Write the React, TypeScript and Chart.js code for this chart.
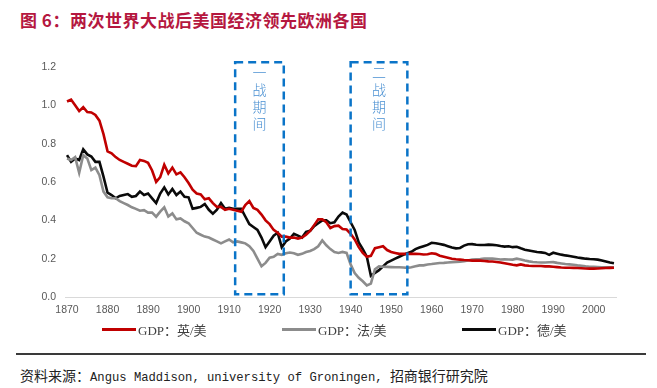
import React, { useEffect, useRef } from 'react';
import { Chart, registerables } from 'chart.js';

Chart.register(...registerables);

const firstYear = 1870;
const lastYear = 2005;
const years: string[] = [];
for (let yr = firstYear; yr <= lastYear; yr++) years.push(String(yr));

const ukUs: number[] = [
  1.02, 1.03, 1.0, 0.97, 0.99, 0.965, 0.963, 0.95, 0.92, 0.85,
  0.76, 0.75, 0.73, 0.715, 0.705, 0.695, 0.685, 0.683, 0.715, 0.71,
  0.7, 0.66, 0.6, 0.625, 0.69, 0.645, 0.675, 0.64, 0.65, 0.625,
  0.595, 0.56, 0.54, 0.535, 0.51, 0.515, 0.49, 0.47, 0.47, 0.455,
  0.46, 0.455, 0.45, 0.445, 0.48, 0.5, 0.465, 0.455, 0.43, 0.4,
  0.38, 0.35, 0.335, 0.315, 0.315, 0.31, 0.31, 0.305, 0.31, 0.325,
  0.345, 0.375, 0.405, 0.405, 0.39, 0.36, 0.37, 0.372, 0.355, 0.352,
  0.33, 0.3, 0.26, 0.23, 0.21, 0.215, 0.255, 0.26, 0.265, 0.245,
  0.235, 0.23, 0.225, 0.225, 0.225, 0.225, 0.225, 0.224, 0.222, 0.223,
  0.228, 0.225, 0.215, 0.21, 0.205, 0.2, 0.197, 0.195, 0.193, 0.192,
  0.19, 0.19, 0.19, 0.188, 0.186, 0.185, 0.183, 0.18, 0.176, 0.172,
  0.168, 0.165, 0.17, 0.165, 0.163, 0.162, 0.162, 0.162, 0.16, 0.16,
  0.158, 0.156, 0.154, 0.153, 0.153, 0.152, 0.151, 0.15, 0.149, 0.148,
  0.148, 0.149, 0.15, 0.151, 0.152, 0.153,
];

const frUs: number[] = [
  0.723, 0.715, 0.73, 0.648, 0.74, 0.723, 0.662, 0.675, 0.636, 0.55,
  0.52, 0.515, 0.515, 0.5, 0.49, 0.48, 0.468, 0.46, 0.45, 0.453,
  0.44, 0.44, 0.419, 0.445, 0.468, 0.42, 0.436, 0.405, 0.41, 0.395,
  0.385, 0.36, 0.335, 0.325, 0.315, 0.31, 0.3, 0.29, 0.28, 0.29,
  0.3, 0.285, 0.29, 0.285, 0.28, 0.265, 0.24, 0.2, 0.16, 0.178,
  0.205, 0.21, 0.225, 0.22, 0.228, 0.232, 0.228, 0.22, 0.225, 0.235,
  0.24, 0.25, 0.265, 0.295, 0.27, 0.25, 0.235, 0.23, 0.235, 0.23,
  0.17, 0.125, 0.1, 0.082, 0.06, 0.07, 0.145, 0.16, 0.158, 0.157,
  0.156, 0.155, 0.155, 0.154, 0.152, 0.155, 0.16, 0.165, 0.165, 0.17,
  0.172, 0.175, 0.177, 0.178, 0.18, 0.182, 0.183, 0.184, 0.187, 0.19,
  0.195, 0.197, 0.198, 0.2, 0.2, 0.2, 0.198, 0.196, 0.197, 0.196,
  0.195, 0.2, 0.196, 0.19, 0.186, 0.183, 0.181, 0.18, 0.18, 0.181,
  0.182, 0.178, 0.175, 0.172, 0.17, 0.168, 0.165, 0.163, 0.16, 0.158,
  0.157, 0.156, 0.155, 0.155, 0.155, 0.155,
];

const deUs: number[] = [
  0.74, 0.705, 0.723, 0.715, 0.77, 0.744, 0.733, 0.705, 0.705, 0.628,
  0.544, 0.532, 0.515, 0.527, 0.532, 0.537, 0.523, 0.527, 0.55, 0.532,
  0.54, 0.515, 0.49, 0.54, 0.572, 0.535, 0.563, 0.532, 0.55, 0.523,
  0.52, 0.46, 0.465, 0.47, 0.485, 0.455, 0.435, 0.455, 0.49, 0.46,
  0.465, 0.46, 0.46, 0.46, 0.42, 0.38, 0.365, 0.35, 0.31, 0.26,
  0.29, 0.32, 0.335, 0.26, 0.29, 0.305, 0.33, 0.32, 0.31, 0.34,
  0.345, 0.37, 0.385, 0.4, 0.4, 0.385, 0.39, 0.42, 0.44, 0.43,
  0.39, 0.35, 0.285, 0.25, 0.21, 0.11, 0.125, 0.14, 0.16, 0.18,
  0.19, 0.2, 0.21, 0.22, 0.228, 0.236, 0.25, 0.258, 0.265, 0.272,
  0.283, 0.28, 0.277, 0.272, 0.265, 0.258, 0.254, 0.256, 0.268, 0.275,
  0.276, 0.273, 0.271, 0.271, 0.273, 0.272, 0.27, 0.266, 0.263, 0.265,
  0.26, 0.262, 0.254, 0.247, 0.243, 0.239, 0.235, 0.233, 0.23, 0.22,
  0.231, 0.226, 0.221, 0.217, 0.214, 0.21, 0.206, 0.203, 0.2, 0.198,
  0.197, 0.195, 0.19, 0.185, 0.18, 0.176,
];

const seriesNames = ['GDP：英/美', 'GDP：法/美', 'GDP：德/美'];
const seriesColors = ['#C00000', '#8C8C8C', '#0A0A0A'];

const yTicks: number[] = [0, 0.2, 0.4, 0.6, 0.8, 1.0, 1.2];

const warLabels = ['一战期间', '二战期间'];
const warStarts = [1911.5, 1940];
const warEnds = [1923.5, 1954];
const boxTop = 1.225;
const boxBottom = 0.015;

const warBoxPlugin = {
  id: 'warBoxes',
  afterDatasetsDraw(chart: any) {
    const { ctx, scales } = chart;
    const x = scales.x;
    const y = scales.y;
    ctx.save();
    warLabels.forEach((label, i) => {
      const x0 = x.getPixelForValue(warStarts[i] - firstYear);
      const x1 = x.getPixelForValue(warEnds[i] - firstYear);
      const y0 = y.getPixelForValue(boxTop);
      const y1 = y.getPixelForValue(boxBottom);
      ctx.setLineDash([8, 5]);
      ctx.lineWidth = 2.5;
      ctx.strokeStyle = '#0A74C8';
      ctx.strokeRect(x0, y0, x1 - x0, y1 - y0);
      ctx.setLineDash([]);
      ctx.fillStyle = '#4A90D2';
      ctx.font = '300 14px "Noto Sans CJK SC"';
      ctx.textAlign = 'center';
      ctx.textBaseline = 'middle';
      const cx = (x0 + x1) / 2;
      Array.from(label).forEach((ch, k) => {
        ctx.fillText(ch, cx, y0 + 10 + k * 17);
      });
    });
    ctx.restore();
  },
};

export default function App() {
  const canvasRef = useRef<HTMLCanvasElement | null>(null);

  useEffect(() => {
    if (!canvasRef.current) return;
    const chart = new Chart(canvasRef.current, {
      type: 'line',
      data: {
        labels: years,
        datasets: [ukUs, frUs, deUs].map((d, i) => ({
          label: seriesNames[i],
          data: d,
          borderColor: seriesColors[i],
          backgroundColor: seriesColors[i],
          borderWidth: 2.6,
          pointRadius: 0,
          tension: 0,
          fill: false,
        })),
      },
      options: {
        animation: false,
        responsive: false,
        maintainAspectRatio: false,
        layout: { padding: { left: 0, right: 41, top: 22, bottom: 8 } },
        plugins: {
          legend: { display: false },
          tooltip: { enabled: false },
        },
        scales: {
          x: {
            type: 'category',
            offset: true,
            grid: { display: false, drawTicks: false },
            border: { display: true, color: '#D9D9D9', width: 1 },
            afterFit: (s: any) => { s.height = 30; },
            ticks: {
              autoSkip: false,
              maxRotation: 0,
              minRotation: 0,
              padding: 7,
              color: '#595959',
              font: { family: '"Liberation Sans", Arial, sans-serif', size: 10.5 },
              callback: function (this: any, value: any) {
                const lab = this.getLabelForValue(value);
                return Number(lab) % 10 === 0 ? lab : '';
              },
            },
          },
          y: {
            min: 0,
            max: 1.2,
            afterFit: (s: any) => { s.width = 65; },
            afterBuildTicks: (s: any) => { s.ticks = yTicks.map((v) => ({ value: v })); },
            grid: { display: false, drawTicks: false },
            border: { display: false },
            ticks: {
              padding: 9,
              color: '#595959',
              font: { family: '"Liberation Sans", Arial, sans-serif', size: 10.5 },
              callback: (v: any) => Number(v).toFixed(1),
            },
          },
        },
      },
      plugins: [warBoxPlugin],
    });
    return () => chart.destroy();
  }, []);

  const legendFont = '"Liberation Serif", "Noto Sans CJK SC", serif';

  return (
    <div style={{ position: 'absolute', left: 0, top: 0, width: 657, height: 388, background: '#fff', overflow: 'hidden' }}>
      <div style={{ position: 'absolute', left: 20, top: 9, lineHeight: '22px', fontSize: 17, letterSpacing: 0.5, fontWeight: 700, color: '#B5173F', fontFamily: '"Noto Sans CJK SC", sans-serif', whiteSpace: 'nowrap' }}>
        图 6：两次世界大战后美国经济领先欧洲各国
      </div>
      <canvas ref={canvasRef} width={657} height={290} style={{ position: 'absolute', left: 0, top: 45, width: 657, height: 290 }} />
      <div style={{ position: 'absolute', left: 102, top: 319, height: 20, display: 'flex', alignItems: 'center' }}>
        {seriesNames.map((name, i) => (
          <div key={name} style={{ display: 'flex', alignItems: 'center', width: i < 2 ? 180 : 'auto' }}>
            <div style={{ width: 34, height: 3, background: seriesColors[i] }} />
            <span style={{ marginLeft: 2, fontSize: 13, color: '#404040', fontFamily: legendFont, whiteSpace: 'nowrap' }}>{name}</span>
          </div>
        ))}
      </div>
      <div style={{ position: 'absolute', left: 16, top: 353, width: 630, height: 2, background: '#3A3A3A' }} />
      <div style={{ position: 'absolute', left: 20, top: 366, lineHeight: '18px', fontSize: 14, color: '#222', fontFamily: '"Noto Sans CJK SC", sans-serif', whiteSpace: 'nowrap' }}>
        资料来源：<span style={{ fontFamily: '"Liberation Mono", monospace', fontSize: 12.2 }}>Angus Maddison, university of Groningen, </span>招商银行研究院
      </div>
    </div>
  );
}
